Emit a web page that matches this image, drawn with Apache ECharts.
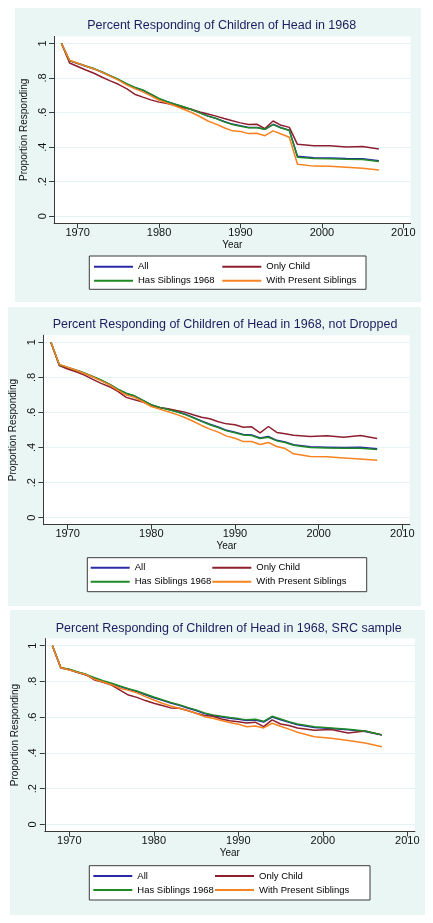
<!DOCTYPE html>
<html><head><meta charset="utf-8">
<script src="https://cdn.jsdelivr.net/npm/echarts@6/dist/echarts.min.js"></script>
<style>html,body{margin:0;padding:0;background:#fff;}#c{width:433px;height:923px;}</style>
</head><body><div id="c"></div>
<script>
const years = [1968,1969,1970,1971,1972,1973,1974,1975,1976,1977,1978,1979,1980,1981,1982,1983,1984,1985,1986,1987,1988,1989,1990,1991,1992,1993,1994,1995,1996,1997,1999,2001,2003,2005,2007];
const seriesNames = ['All','Only Child','Has Siblings 1968','With Present Siblings'];
const titles = ['Percent Responding of Children of Head in 1968','Percent Responding of Children of Head in 1968, not Dropped','Percent Responding of Children of Head in 1968, SRC sample'];
const xTicks = [1970,1980,1990,2000,2010];
const yTicks = [0,0.2,0.4,0.6,0.8,1];
const xAxisName = 'Year';
const yAxisName = 'Proportion Responding';

// Panel 1
const p1All     = [1.0,0.899,0.883,0.867,0.852,0.833,0.811,0.790,0.765,0.744,0.728,0.704,0.679,0.662,0.647,0.632,0.617,0.598,0.580,0.566,0.548,0.533,0.523,0.514,0.514,0.503,0.532,0.512,0.498,0.347,0.338,0.337,0.334,0.332,0.321];
const p1Only    = [1.0,0.886,0.866,0.846,0.827,0.804,0.783,0.763,0.738,0.706,0.689,0.673,0.660,0.652,0.641,0.627,0.617,0.603,0.591,0.579,0.565,0.552,0.540,0.531,0.532,0.507,0.551,0.526,0.514,0.416,0.408,0.408,0.401,0.404,0.389];
const p1Has     = [1.0,0.900,0.885,0.869,0.854,0.835,0.813,0.792,0.767,0.746,0.731,0.706,0.681,0.663,0.648,0.633,0.617,0.598,0.579,0.565,0.546,0.531,0.521,0.512,0.512,0.503,0.530,0.510,0.496,0.341,0.334,0.333,0.330,0.328,0.317];
const p1Present = [1.0,0.902,0.885,0.868,0.852,0.832,0.810,0.787,0.760,0.738,0.719,0.696,0.671,0.654,0.638,0.619,0.600,0.577,0.551,0.533,0.512,0.494,0.490,0.478,0.480,0.466,0.494,0.476,0.457,0.301,0.290,0.289,0.284,0.278,0.268];
// Panel 2
const p2All     = [1.0,0.871,0.855,0.840,0.823,0.804,0.783,0.760,0.731,0.708,0.693,0.668,0.643,0.629,0.618,0.605,0.591,0.572,0.551,0.533,0.517,0.498,0.487,0.475,0.472,0.454,0.463,0.441,0.432,0.416,0.404,0.402,0.400,0.401,0.393];
const p2Only    = [1.0,0.868,0.848,0.832,0.813,0.789,0.766,0.747,0.720,0.686,0.672,0.659,0.640,0.627,0.621,0.611,0.602,0.587,0.573,0.564,0.547,0.535,0.530,0.516,0.518,0.484,0.520,0.486,0.478,0.470,0.463,0.467,0.459,0.468,0.451];
const p2Has     = [1.0,0.872,0.857,0.842,0.825,0.806,0.785,0.762,0.733,0.710,0.695,0.669,0.644,0.629,0.617,0.604,0.589,0.570,0.549,0.530,0.514,0.495,0.484,0.472,0.469,0.451,0.459,0.438,0.429,0.413,0.400,0.398,0.396,0.396,0.389];
const p2Present = [1.0,0.874,0.858,0.841,0.822,0.802,0.780,0.757,0.727,0.700,0.686,0.661,0.634,0.619,0.604,0.589,0.571,0.550,0.526,0.505,0.488,0.465,0.453,0.434,0.434,0.417,0.429,0.406,0.394,0.364,0.349,0.347,0.341,0.335,0.328];
// Panel 3
const p3All     = [1.0,0.875,0.865,0.850,0.836,0.817,0.800,0.786,0.771,0.756,0.743,0.726,0.709,0.694,0.679,0.666,0.651,0.637,0.620,0.609,0.601,0.594,0.588,0.581,0.584,0.573,0.601,0.586,0.571,0.558,0.542,0.536,0.529,0.520,0.500];
const p3Only    = [1.0,0.877,0.867,0.852,0.838,0.808,0.795,0.780,0.752,0.724,0.711,0.693,0.678,0.665,0.652,0.650,0.637,0.622,0.609,0.605,0.590,0.580,0.575,0.568,0.572,0.547,0.585,0.562,0.553,0.540,0.527,0.531,0.512,0.523,0.501];
const p3Has     = [1.0,0.877,0.868,0.853,0.840,0.821,0.804,0.790,0.775,0.760,0.747,0.730,0.713,0.698,0.683,0.670,0.655,0.641,0.624,0.613,0.605,0.598,0.592,0.585,0.588,0.577,0.605,0.590,0.575,0.562,0.546,0.540,0.533,0.523,0.501];
const p3Present = [1.0,0.877,0.864,0.851,0.838,0.812,0.797,0.782,0.762,0.750,0.736,0.715,0.696,0.678,0.663,0.650,0.637,0.622,0.603,0.594,0.581,0.570,0.561,0.546,0.551,0.540,0.566,0.549,0.533,0.516,0.490,0.482,0.469,0.456,0.434];

const panelData = [
  [p1All,p1Only,p1Has,p1Present],
  [p2All,p2Only,p2Has,p2Present],
  [p3All,p3Only,p3Has,p3Present]
];
const colors = ['#2a2aa8','#8e1f2e','#1f8a25','#f7821f'];

// layout (pixels)
const layout = [
  {bg:[15,8,406,294], grid:{left:54.1,top:36.4,width:356.5,height:186.8}, title:[221.7,26], box:[89.3,256,276.7,33.3], c1:94, c2:222.3, row:266.7, yGap:21},
  {bg:[8,307,413,299], grid:{left:43.4,top:335.3,width:366.4,height:189.4}, title:[225,325], box:[87.3,557.7,279.4,34], c1:90.7, c2:212.3, row:567.7, yGap:21.4},
  {bg:[10,610,415,305], grid:{left:44.8,top:638.6,width:370.1,height:192.9}, title:[228.7,629], box:[89.3,865.7,280.7,34.3], c1:93.3, c2:215, row:876, yGap:19.5}
];

const FONT = 'Liberation Sans, Arial, sans-serif';
const axisColor = '#3a3a3a';
const yFmt = v => { if (Math.abs(v) < 1e-9) return '0'; if (Math.abs(v-1) < 1e-9) return '1'; return String(+v.toFixed(1)).replace(/^0\./,'.'); };
const xFmt = v => String(Math.round(v));

const option = {
  animation: false,
  textStyle: {fontFamily: FONT},
  title: [], grid: [], xAxis: [], yAxis: [], legend: [], series: [],
  graphic: {elements: []}
};

layout.forEach((L, i) => {
  option.graphic.elements.push({type:'rect', z:-10, shape:{x:L.bg[0],y:L.bg[1],width:L.bg[2],height:L.bg[3]}, style:{fill:'#e9f6f4'}, silent:true});
  option.graphic.elements.push({type:'rect', z:1, shape:{x:L.box[0],y:L.box[1],width:L.box[2],height:L.box[3]}, style:{fill:'#ffffff', stroke:'#3a3a3a', lineWidth:1}, silent:true});
  option.title.push({text:titles[i], left:L.title[0], top:L.title[1]-7, textAlign:'center', padding:0,
    textStyle:{fontSize:12.5, fontWeight:'normal', color:'#1c1c5e', fontFamily:FONT}});
  option.grid.push(Object.assign({show:true, backgroundColor:'#ffffff', borderWidth:0, containLabel:false}, L.grid));
  option.xAxis.push({gridIndex:i, type:'value', min:1967.1, max:2010.9,
    name:xAxisName, nameLocation:'middle', nameGap:17, nameTextStyle:{fontSize:10, color:'#111'},
    axisLine:{show:true, onZero:false, lineStyle:{color:axisColor, width:1}},
    axisTick:{show:true, length:5, customValues:xTicks, lineStyle:{color:axisColor}},
    axisLabel:{customValues:xTicks, fontSize:11, color:'#111', margin:4, formatter:xFmt},
    splitLine:{show:false}});
  option.yAxis.push({gridIndex:i, type:'value', min:-0.04, max:1.04,
    name:yAxisName, nameLocation:'middle', nameGap:L.yGap, nameTextStyle:{fontSize:10, color:'#111'},
    axisLine:{show:true, onZero:false, lineStyle:{color:axisColor, width:1}},
    axisTick:{show:true, length:5, customValues:yTicks, lineStyle:{color:axisColor}},
    axisLabel:{customValues:yTicks, rotate:90, fontSize:11, color:'#111', margin:6, formatter:yFmt},
    splitLine:{show:true, lineStyle:{color:'#e4f3f3', width:1}}});
  option.legend.push({data:[seriesNames[0],seriesNames[2]], orient:'vertical', left:L.c1, top:L.row-6, padding:0,
    itemWidth:39, itemHeight:2, itemGap:2, icon:'rect', selectedMode:false,
    textStyle:{fontSize:9.5, lineHeight:12, color:'#000'}});
  option.legend.push({data:[seriesNames[1],seriesNames[3]], orient:'vertical', left:L.c2, top:L.row-6, padding:0,
    itemWidth:39, itemHeight:2, itemGap:2, icon:'rect', selectedMode:false,
    textStyle:{fontSize:9.5, lineHeight:12, color:'#000'}});
  panelData[i].forEach((vals, k) => {
    option.series.push({name:seriesNames[k], type:'line', xAxisIndex:i, yAxisIndex:i,
      data: years.map((y, j) => [y, vals[j]]), showSymbol:false, symbol:'none',
      color:colors[k], lineStyle:{width:1.5, color:colors[k]}, z:2+k});
  });
});

const chart = echarts.init(document.getElementById('c'), null, {renderer:'canvas'});
chart.setOption(option);
</script>
</body></html>
